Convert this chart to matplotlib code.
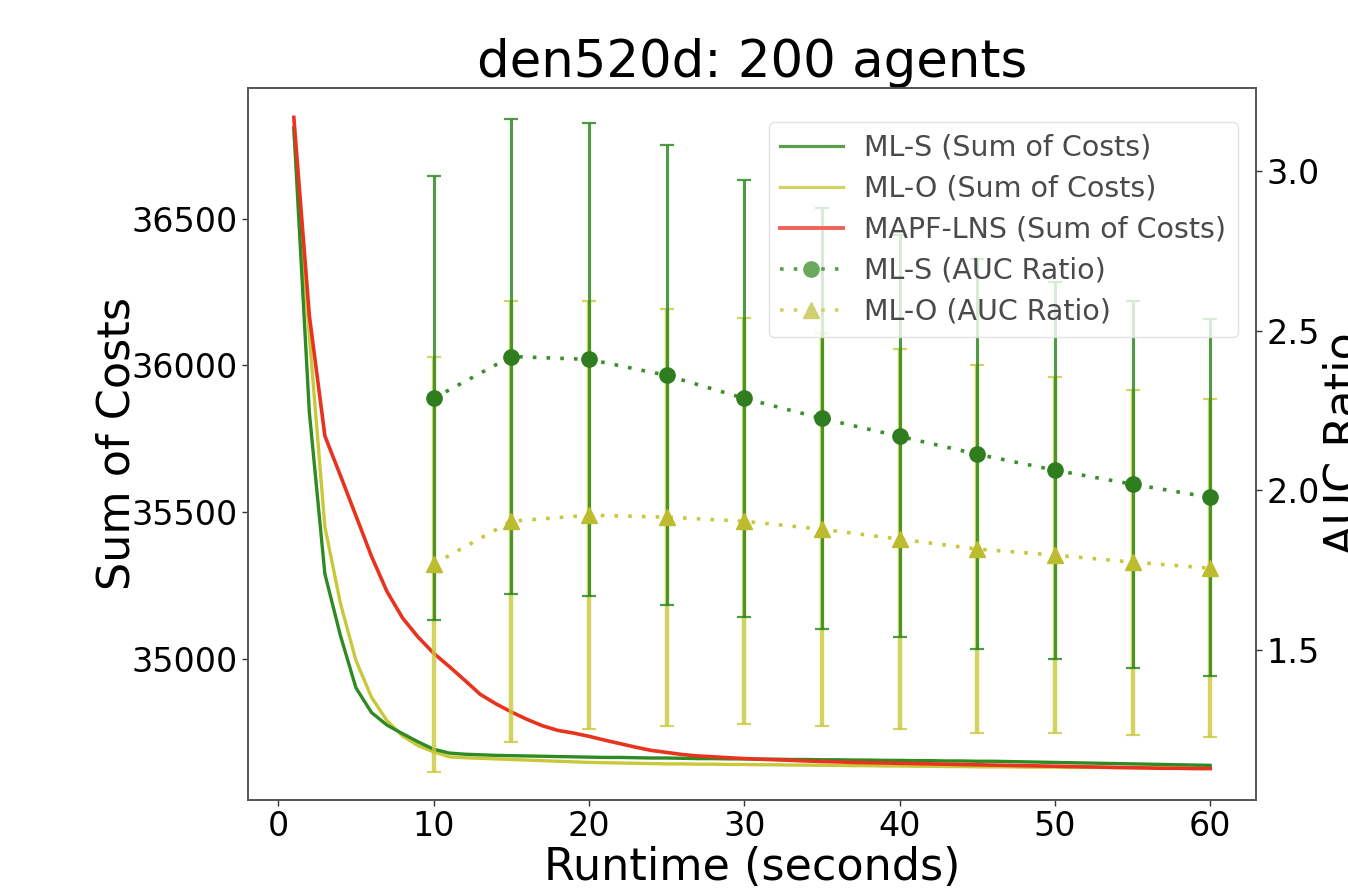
import matplotlib
matplotlib.use("Agg")
import matplotlib.pyplot as plt
from matplotlib.lines import Line2D

# ---------------- data ----------------
runtime = list(range(1, 61))

mls_cost = [36810, 35840, 35290, 35080, 34902, 34818, 34775, 34746, 34718, 34693,
            34680, 34676, 34674, 34672, 34671, 34670, 34669, 34668, 34667, 34666,
            34665, 34665, 34664, 34663, 34663, 34662, 34661, 34661, 34660, 34660,
            34659, 34659, 34658, 34658, 34657, 34657, 34656, 34656, 34655, 34655,
            34654, 34654, 34653, 34653, 34652, 34652, 34651, 34650, 34649, 34648,
            34647, 34646, 34645, 34644, 34643, 34642, 34641, 34640, 34639, 34638]

mlo_cost = [36800, 36100, 35450, 35190, 34995, 34870, 34790, 34738, 34705, 34684,
            34667, 34664, 34662, 34660, 34658, 34656, 34654, 34652, 34650, 34648,
            34647, 34646, 34645, 34644, 34643, 34643, 34642, 34642, 34641, 34641,
            34640, 34640, 34639, 34639, 34638, 34638, 34637, 34637, 34636, 34636,
            34635, 34635, 34634, 34634, 34633, 34633, 34633, 34632, 34632, 34632,
            34631, 34631, 34631, 34630, 34630, 34630, 34629, 34629, 34629, 34628]

lns_cost = [36845, 36170, 35760, 35625, 35488, 35350, 35230, 35140, 35075, 35020,
            34975, 34928, 34880, 34848, 34820, 34795, 34773, 34757, 34748, 34737,
            34724, 34712, 34700, 34689, 34682, 34675, 34670, 34667, 34664, 34661,
            34659, 34657, 34655, 34653, 34651, 34650, 34648, 34647, 34646, 34645,
            34644, 34643, 34642, 34641, 34640, 34639, 34638, 34637, 34636, 34635,
            34634, 34633, 34632, 34631, 34630, 34629, 34628, 34628, 34627, 34627]

auc_x = [10, 15, 20, 25, 30, 35, 40, 45, 50, 55, 60]
mls_auc = [2.288, 2.419, 2.410, 2.360, 2.288, 2.225, 2.169, 2.113, 2.063, 2.019, 1.978]
mls_auc_err = [0.695, 0.745, 0.740, 0.720, 0.685, 0.660, 0.630, 0.610, 0.590, 0.575, 0.560]
mlo_auc = [1.769, 1.903, 1.922, 1.916, 1.903, 1.878, 1.847, 1.816, 1.797, 1.775, 1.756]
mlo_auc_err = [0.650, 0.690, 0.670, 0.653, 0.636, 0.615, 0.596, 0.575, 0.557, 0.540, 0.530]

x_ticks = [0, 10, 20, 30, 40, 50, 60]
left_ticks = [35000, 35500, 36000, 36500]
right_ticks = [1.5, 2.0, 2.5, 3.0]

labels = ["ML-S (Sum of Costs)", "ML-O (Sum of Costs)", "MAPF-LNS (Sum of Costs)",
          "ML-S (AUC Ratio)", "ML-O (AUC Ratio)"]

# ---------------- figure ----------------
W, H = 1348, 891
fig = plt.figure(figsize=(W / 100, H / 100), dpi=100)
ax = fig.add_axes([248 / W, 91 / H, 1008 / W, 712 / H])
ax2 = ax.twinx()

green = "#2e8a22"
yellow = "#c8c83a"
red = "#e8341f"

ax.plot(runtime, mls_cost, color=green, lw=2.4, zorder=3)
ax.plot(runtime, mlo_cost, color=yellow, lw=2.4, zorder=2)
ax.plot(runtime, lns_cost, color=red, lw=2.6, zorder=4)

ax.set_xlim(-1.95, 62.95)
ax.set_ylim(34520, 36945)
ax.set_xticks(x_ticks)
ax.set_yticks(left_ticks)

ax2.errorbar(auc_x, mlo_auc, yerr=mlo_auc_err, fmt="none", ecolor="#c8c83a",
             elinewidth=3.2, capsize=5, capthick=1.6, alpha=0.8, zorder=2)
ax2.errorbar(auc_x, mls_auc, yerr=mls_auc_err, fmt="none", ecolor="#2e8a22",
             elinewidth=2.2, capsize=5, capthick=1.6, alpha=0.85, zorder=3)
ax2.plot(auc_x, mls_auc, color="#3a8f2a", lw=2.6, linestyle=(0, (1, 2.8)),
         marker="o", ms=11, mfc="#2f7d1f", mec="#2f7d1f", zorder=5)
ax2.plot(auc_x, mlo_auc, color="#c8c840", lw=2.6, linestyle=(0, (1, 2.8)),
         marker="^", ms=11, mfc="#bcbc2e", mec="#bcbc2e", zorder=4)
ax2.set_ylim(1.03, 3.26)
ax2.set_yticks(right_ticks)

# ---------------- text ----------------
ax.set_title("den520d: 200 agents", fontsize=37, pad=8)
ax.set_xlabel("Runtime (seconds)", fontsize=32)
ax.set_ylabel("Sum of Costs", fontsize=32)
ax2.set_ylabel("AUC Ratio", fontsize=32)
ax.xaxis.set_label_coords(0.5, -0.064)
ax.yaxis.set_label_coords(-0.109, 0.5)
ax2.yaxis.set_label_coords(1.0655, 0.5)

ax.tick_params(axis="both", labelsize=24, length=4, width=1, color="#333333")
ax2.tick_params(axis="y", labelsize=24, length=4, width=1, color="#333333")
for a in (ax, ax2):
    for s in a.spines.values():
        s.set_color("#555555")
        s.set_linewidth(1.2)

# ---------------- legend ----------------
handles = [
    Line2D([], [], color="#5a9e4e", lw=2.3),
    Line2D([], [], color="#d2d262", lw=2.3),
    Line2D([], [], color="#f0625a", lw=2.8),
    Line2D([], [], color="#5a9e4e", lw=2.6, linestyle=(0, (1, 2.8)), marker="o",
           ms=11, mfc="#6aa85c", mec="#6aa85c"),
    Line2D([], [], color="#d2d262", lw=2.6, linestyle=(0, (1, 2.8)), marker="^",
           ms=11, mfc="#d0d070", mec="#d0d070"),
]
leg = ax2.legend(handles, labels, loc="upper right", bbox_to_anchor=(0.982, 0.952),
                 borderaxespad=0, fontsize=20.5, framealpha=0.8, labelspacing=0.46,
                 handlelength=2.2, handletextpad=0.77, borderpad=0.4)
leg.get_frame().set_edgecolor("#dddddd")
for t in leg.get_texts():
    t.set_color("#4a4a4a")

fig.savefig("out.png", dpi=100)
